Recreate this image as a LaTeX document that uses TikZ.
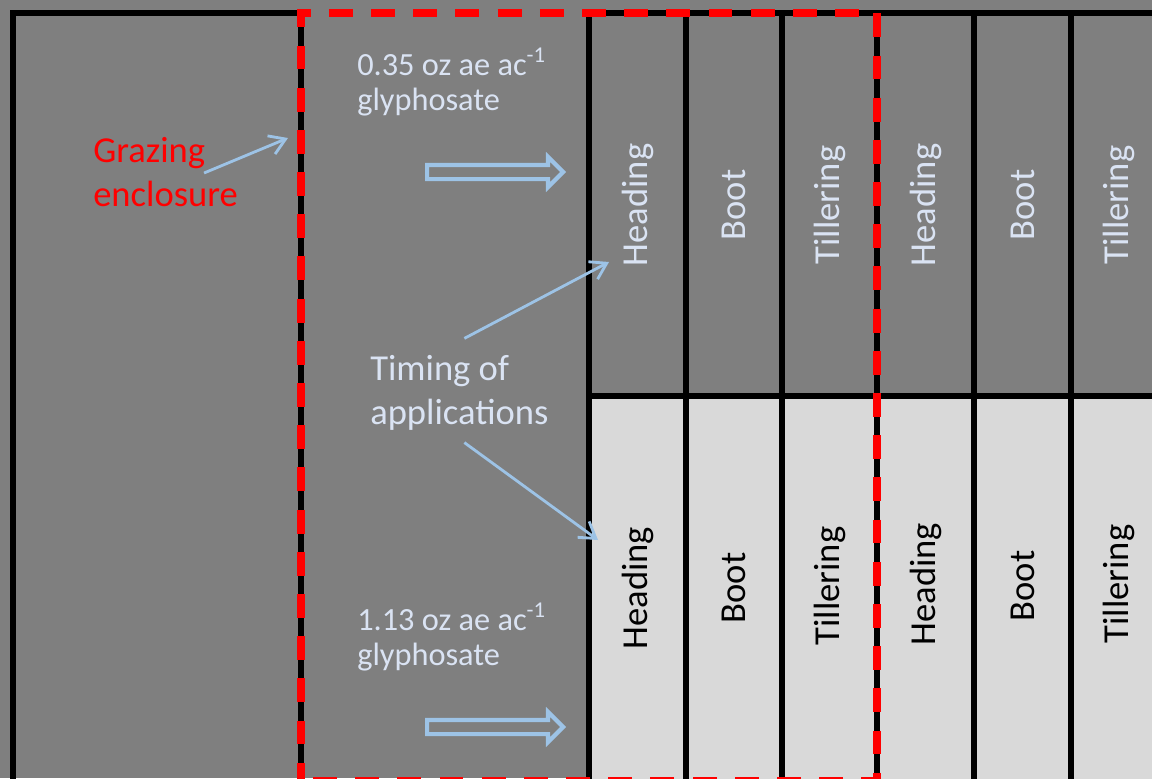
\documentclass[tikz,border=0pt]{standalone}
\usepackage{fontspec}
\setmainfont{Carlito}
\usetikzlibrary{arrows.meta,shapes.arrows}

\definecolor{plotgray}{HTML}{7F7F7F}
\definecolor{plotlight}{HTML}{D9D9D9}
\definecolor{textblue}{HTML}{DAE3F3}
\definecolor{arrowblue}{HTML}{9DC3E6}

\tikzset{
  border/.style={line width=4pt},
  enclosure/.style={draw=red,line width=5pt,dash pattern=on 17pt off 13pt,dash phase=4pt},
  stage/.style={rotate=90,font=\fontsize{26}{31}\selectfont},
  pointer/.style={draw=arrowblue,line width=2pt,-{Straight Barb[length=11pt,width=14pt]}},
  hollowarrow/.style={single arrow,draw=arrowblue,line width=3pt,inner xsep=0pt,inner ysep=0.125cm,
    minimum height=3.4cm,single arrow head extend=0.2cm}
}

\begin{document}
\begin{tikzpicture}[x=0.025cm,y=-0.025cm,every node/.style={inner sep=0pt,align=left}]
  \fill[plotgray] (0,0) rectangle (1152,778);
  \useasboundingbox (0,0) rectangle (1152,778);
  \fill[plotlight] (589,396) rectangle (1152,800);
  % field borders
  \draw[border] (13,800) -- (13,13) -- (301,13) -- (301,800);
  \draw[border] (589,13) -- (1160,13);
  \draw[border] (589,396) -- (1160,396);
  \draw[border] (589,13) -- (589,800) (686,13) -- (686,800) (782,13) -- (782,800)
                (877,13) -- (877,800) (974,13) -- (974,800) (1071,13) -- (1071,800);
  \draw[enclosure] (301,781) -- (301,13) -- (877,13) -- (877,781) -- cycle;

  % 0.35 oz row
  \node[stage,text=textblue] (lowHead1) at (637.5,205) {Heading};
  \node[stage,text=textblue] (lowBoot1) at (734,205) {Boot};
  \node[stage,text=textblue] (lowTill1) at (829.5,205) {Tillering};
  \node[stage,text=textblue] (lowHead2) at (925.5,205) {Heading};
  \node[stage,text=textblue] (lowBoot2) at (1022.5,205) {Boot};
  \node[stage,text=textblue] (lowTill2) at (1119,205) {Tillering};
  % 1.13 oz row
  \node[stage] (highHead1) at (637.5,588) {Heading};
  \node[stage] (highBoot1) at (734,588) {Boot};
  \node[stage] (highTill1) at (829.5,586) {Tillering};
  \node[stage] (highHead2) at (925.5,584) {Heading};
  \node[stage] (highBoot2) at (1022.5,586) {Boot};
  \node[stage] (highTill2) at (1119,584) {Tillering};

  \node[anchor=west,text=textblue,font=\fontsize{23}{25}\selectfont] (lowdose) at (357,82) {0.35 oz ae ac\textsuperscript{-1}\\glyphosate};
  \node[anchor=west,text=textblue,font=\fontsize{23}{25}\selectfont] (highdose) at (357,637) {1.13 oz ae ac\textsuperscript{-1}\\glyphosate};
  \node[hollowarrow,anchor=tail] (lowarrow) at (425,172) {};
  \node[hollowarrow,anchor=tail] (higharrow) at (425,727) {};

  \node[anchor=west,text=textblue,font=\fontsize{26}{31}\selectfont] (timing) at (370,393) {Timing of\\applications};
  \node[anchor=west,text=red,font=\fontsize{26}{31}\selectfont] (graze) at (93,172) {Grazing\\enclosure};

  \coordinate (grazetip) at (288,138);
  \coordinate (lowtip) at (609,262);
  \coordinate (hightip) at (598,540);
  \draw[pointer] ([shift={(-34,1)}]graze.east) -- (grazetip);
  \draw[pointer] ([shift={(5,-17)}]timing.north) -- (lowtip);
  \draw[pointer] ([shift={(5,12)}]timing.south) -- (hightip);
\end{tikzpicture}
\end{document}
